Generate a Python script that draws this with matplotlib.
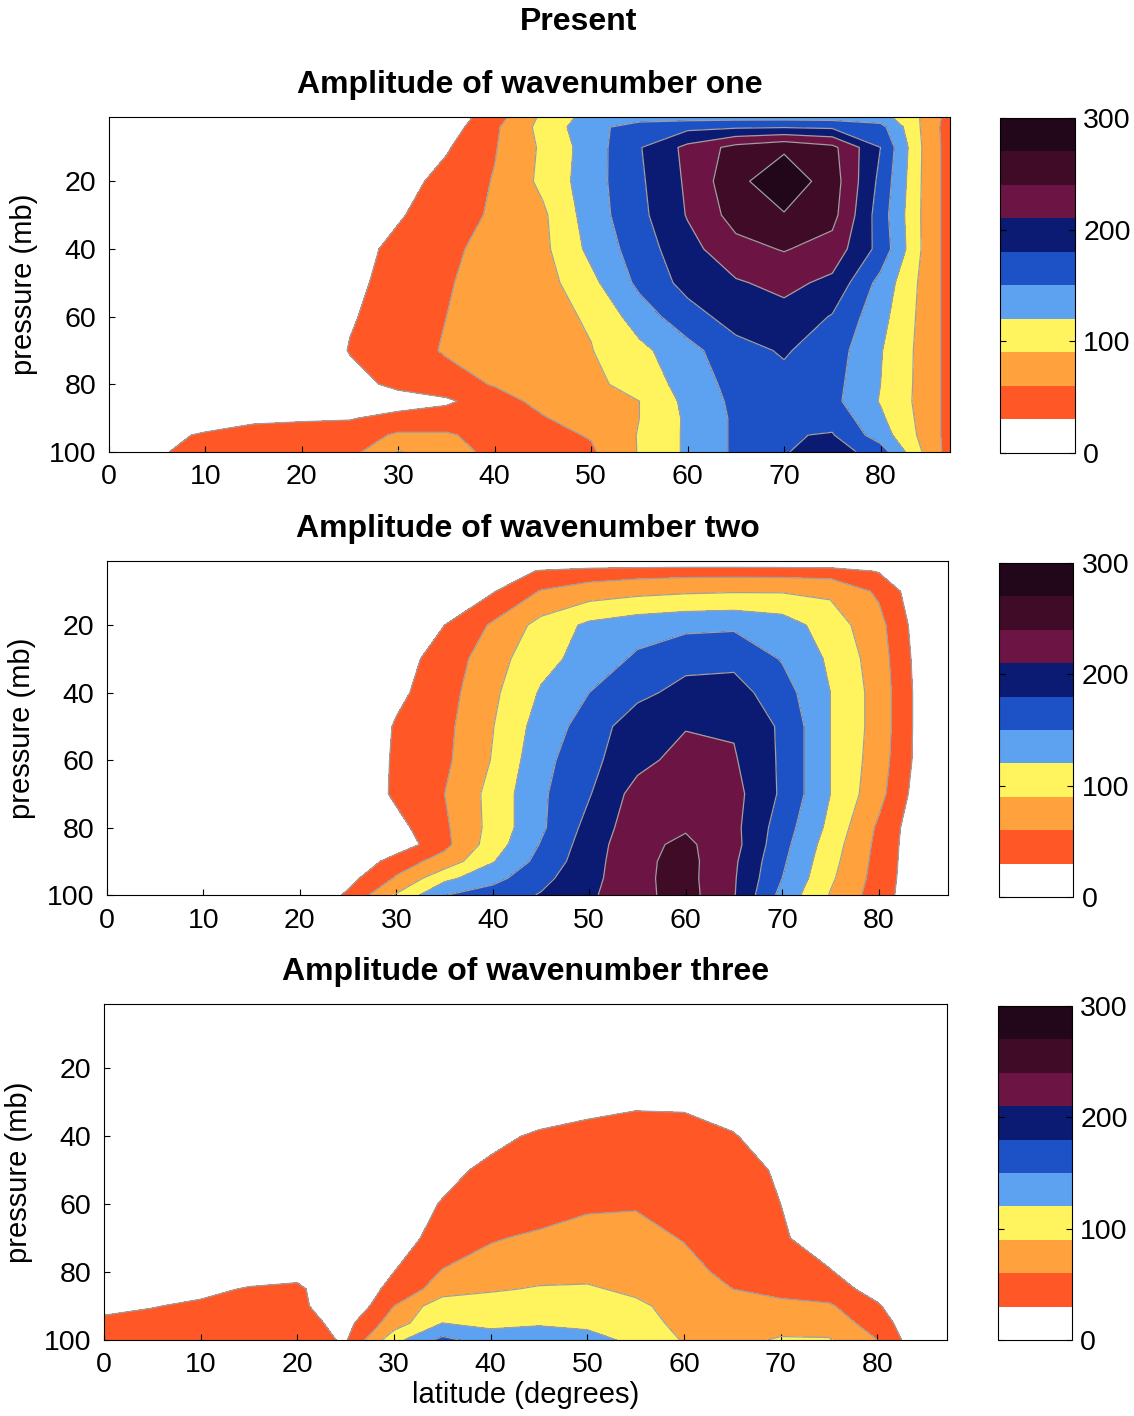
import numpy as np
import matplotlib.pyplot as plt

plt.rcParams['font.family'] = ['Liberation Sans', 'DejaVu Sans']

# grid: latitude (deg) x pressure (mb)
lat = [0, 5, 10, 15, 20, 25, 30, 35, 40, 45, 50, 55, 60, 65, 70, 75, 80, 85, 87.5]
pres = [1, 4, 10, 20, 30, 40, 50, 60, 70, 80, 85, 90, 95, 100]

# amplitude of wavenumber one (rows follow pres)
amp_one = [
    [0, 0, 0, 0, 0, 0, 0, 10, 47, 96, 132, 135, 137, 138, 138, 137, 133, 80, 42],
    [0, 0, 0, 0, 0, 0, 3, 15, 55, 100, 140, 165, 172, 176, 178, 175, 160, 75, 42],
    [0, 0, 0, 0, 0, 3, 12, 27, 58, 95, 135, 178, 218, 250, 265, 248, 180, 75, 45],
    [0, 0, 0, 0, 0, 5, 18, 40, 62, 97, 137, 175, 215, 262, 290, 255, 172, 75, 45],
    [0, 0, 0, 0, 0, 8, 27, 47, 64, 85, 135, 172, 212, 252, 268, 250, 165, 75, 45],
    [0, 0, 0, 0, 0, 18, 38, 55, 68, 83, 128, 165, 200, 230, 242, 228, 170, 75, 45],
    [0, 0, 0, 0, 0, 22, 42, 58, 70, 78, 112, 157, 190, 207, 218, 203, 140, 75, 45],
    [0, 0, 0, 0, 0, 27, 45, 60, 72, 82, 93, 135, 168, 192, 200, 178, 130, 75, 45],
    [0, 0, 0, 0, 0, 32, 46, 63, 74, 83, 89, 112, 140, 170, 183, 165, 122, 75, 45],
    [0, 0, 0, 0, 0, 18, 38, 48, 62, 75, 84, 100, 133, 160, 172, 160, 120, 75, 45],
    [0, 0, 0, 0, 0, 5, 15, 25, 48, 68, 82, 90, 128, 157, 165, 158, 118, 75, 45],
    [0, 0, 8, 22, 26, 28, 40, 45, 53, 58, 75, 90, 125, 155, 170, 170, 125, 75, 45],
    [0, 18, 35, 45, 45, 46, 64, 63, 50, 52, 62, 92, 125, 155, 178, 182, 135, 75, 45],
    [0, 25, 45, 48, 48, 50, 92, 75, 50, 52, 56, 92, 125, 155, 178, 195, 165, 78, 45],
]

# amplitude of wavenumber two
amp_two = [
    [0, 0, 0, 0, 0, 0, 0, 0, 0, 0, 0, 0, 0, 0, 0, 0, 0, 0, 0],
    [0, 0, 0, 0, 0, 0, 0, 0, 10, 33, 42, 46, 48, 48, 47, 45, 28, 0, 0],
    [0, 0, 0, 0, 0, 0, 0, 5, 28, 62, 75, 82, 86, 88, 88, 85, 55, 0, 0],
    [0, 0, 0, 0, 0, 0, 10, 30, 64, 100, 126, 137, 143, 145, 135, 105, 70, 5, 0],
    [0, 0, 0, 0, 0, 0, 18, 42, 78, 110, 132, 155, 170, 172, 148, 115, 75, 8, 0],
    [0, 0, 0, 0, 0, 0, 23, 48, 84, 123, 150, 172, 190, 192, 163, 120, 78, 10, 0],
    [0, 0, 0, 0, 0, 0, 33, 52, 89, 133, 163, 198, 208, 207, 175, 120, 78, 10, 0],
    [0, 0, 0, 0, 0, 0, 35, 54, 92, 140, 172, 200, 222, 213, 175, 120, 75, 10, 0],
    [0, 0, 0, 0, 0, 0, 36, 60, 100, 145, 178, 222, 232, 220, 175, 120, 70, 5, 0],
    [0, 0, 0, 0, 0, 0, 20, 55, 100, 145, 190, 228, 237, 218, 165, 112, 55, 0, 0],
    [0, 0, 0, 0, 0, 0, 10, 52, 105, 152, 195, 232, 246, 220, 160, 105, 52, 0, 0],
    [0, 0, 0, 0, 0, 0, 45, 72, 118, 160, 198, 233, 250, 215, 155, 100, 50, 0, 0],
    [0, 0, 0, 0, 0, 20, 63, 112, 140, 172, 200, 234, 250, 213, 150, 95, 48, 0, 0],
    [0, 0, 0, 0, 0, 35, 93, 149, 165, 182, 205, 232, 252, 212, 140, 88, 45, 0, 0],
]

# amplitude of wavenumber three
amp_three = [
    [0, 0, 0, 0, 0, 0, 0, 0, 0, 0, 0, 0, 0, 0, 0, 0, 0, 0, 0],
    [0, 0, 0, 0, 0, 0, 0, 0, 0, 0, 0, 0, 0, 0, 0, 0, 0, 0, 0],
    [0, 0, 0, 0, 0, 0, 0, 0, 0, 0, 0, 0, 0, 0, 0, 0, 0, 0, 0],
    [0, 0, 0, 0, 0, 0, 0, 0, 0, 0, 0, 0, 0, 0, 0, 0, 0, 0, 0],
    [0, 0, 0, 0, 0, 0, 0, 0, 0, 5, 18, 25, 25, 12, 0, 0, 0, 0, 0],
    [0, 0, 0, 0, 0, 0, 0, 5, 20, 36, 42, 45, 42, 33, 10, 0, 0, 0, 0],
    [0, 0, 0, 0, 0, 0, 5, 20, 38, 45, 50, 52, 50, 42, 26, 0, 0, 0, 0],
    [0, 0, 0, 0, 0, 0, 12, 32, 42, 48, 55, 57, 55, 48, 30, 5, 0, 0, 0],
    [0, 0, 0, 0, 0, 0, 18, 40, 58, 64, 72, 72, 58, 47, 35, 10, 0, 0, 0],
    [0, 5, 10, 18, 20, 0, 30, 62, 70, 78, 83, 80, 72, 50, 44, 33, 5, 0, 0],
    [12, 18, 24, 32, 36, 3, 40, 73, 86, 93, 93, 85, 72, 60, 50, 42, 20, 0, 0],
    [24, 29, 34, 38, 40, 0, 60, 110, 108, 110, 108, 95, 80, 70, 68, 64, 33, 0, 0],
    [35, 37, 40, 42, 42, 20, 75, 120, 112, 116, 110, 102, 82, 76, 78, 78, 45, 0, 0],
    [37, 38, 40, 42, 42, 27, 110, 158, 135, 140, 135, 110, 88, 82, 93, 92, 60, 0, 0],
]

titles = ['Amplitude of wavenumber one', 'Amplitude of wavenumber two',
          'Amplitude of wavenumber three']
levels = list(range(0, 301, 30))
band_colors = ['#ffffff', '#ff5826', '#ffa23e', '#fff35e', '#5ca2f0',
               '#1c52c6', '#0b1a72', '#6c1545', '#3f0b27', '#22061a']

fig = plt.figure(figsize=(11.34, 14.16), dpi=100)
fig.text(0.51, 0.9788, 'Present', ha='center', va='baseline',
         fontsize=23, fontweight='bold')

ax_pos = [[0.0961, 0.6808, 0.7416, 0.2366],
          [0.0944, 0.3679, 0.7416, 0.2359],
          [0.0917, 0.0537, 0.7434, 0.2373]]
cb_pos = [[0.8818, 0.6801, 0.0661, 0.2366],
          [0.8810, 0.3665, 0.0653, 0.2359],
          [0.8800, 0.0537, 0.0653, 0.2359]]

for i, data in enumerate([amp_one, amp_two, amp_three]):
    ax = fig.add_axes(ax_pos[i])
    z = np.array(data, dtype=float)
    cf = ax.contourf(lat, pres, z, levels=levels, colors=band_colors)
    ax.contour(lat, pres, z, levels=levels[1:-1], colors='#a09ea0',
               linewidths=0.9)
    ax.set_xlim(0, 87.2)
    ax.set_ylim(100, 1)
    ax.set_xticks(range(0, 81, 10))
    ax.set_yticks([20, 40, 60, 80, 100])
    ax.tick_params(direction='in', length=4, labelsize=20.5, pad=9)
    for s in ax.spines.values():
        s.set_linewidth(0.8)
    ax.set_ylabel('pressure (mb)', fontsize=21, labelpad=8)
    ax.set_title(titles[i], fontsize=23, fontweight='bold', pad=17)
    if i == 2:
        ax.set_xlabel('latitude (degrees)', fontsize=21, labelpad=2)

    cax = fig.add_axes(cb_pos[i])
    cb = fig.colorbar(cf, cax=cax, ticks=[0, 100, 200, 300])
    cb.outline.set_linewidth(0.8)
    cax.tick_params(direction='in', length=4, labelsize=20.5, pad=6,
                    left=True, right=True)

plt.savefig('out.png', dpi=100)
